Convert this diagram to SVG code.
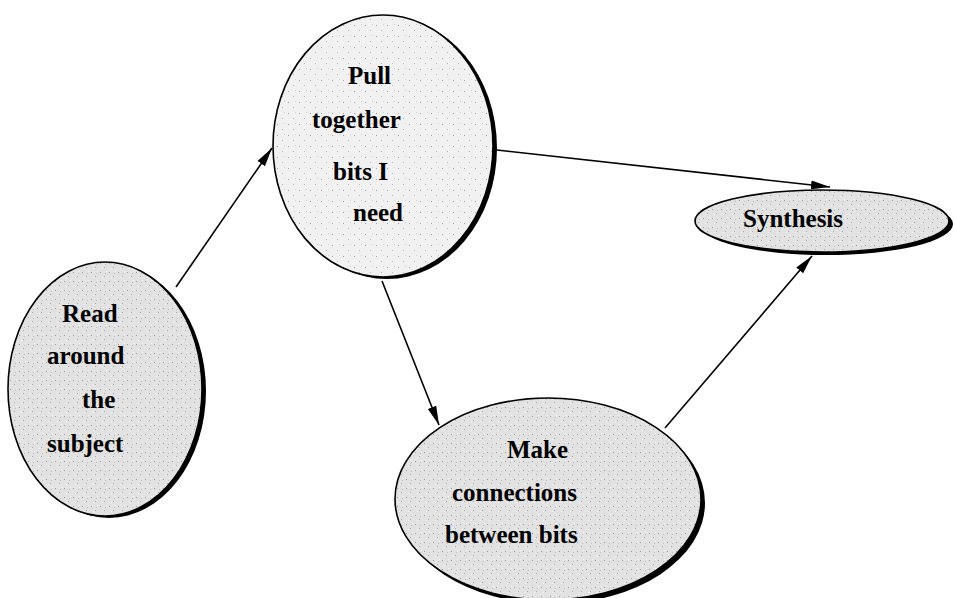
<svg xmlns="http://www.w3.org/2000/svg" width="954" height="598" viewBox="0 0 954 598">
<defs>
<pattern id="stip" width="9" height="9" patternUnits="userSpaceOnUse">
<rect width="9" height="9" fill="#e2e2e2"/>
<rect x="1" y="2" width="1" height="1" fill="#9a9a9a"/>
<rect x="5" y="6" width="1" height="1" fill="#a8a8a8"/>
<rect x="7" y="1" width="1" height="1" fill="#f4f4f4"/>
<rect x="3" y="7" width="1" height="1" fill="#f6f6f6"/>
<rect x="6" y="3" width="1" height="1" fill="#bbbbbb"/>
</pattern>
<pattern id="stipl" width="11" height="11" patternUnits="userSpaceOnUse">
<rect width="11" height="11" fill="#f1f1f1"/>
<rect x="2" y="3" width="1" height="1" fill="#a0a0a0"/>
<rect x="7" y="8" width="1" height="1" fill="#b4b4b4"/>
<rect x="9" y="2" width="1" height="1" fill="#d0d0d0"/>
</pattern>
<marker id="arr" markerWidth="20" markerHeight="10" refX="19" refY="5" orient="auto" markerUnits="userSpaceOnUse">
<path d="M0,0.5 L19,5 L0,9.5 Z" fill="#000"/>
</marker>
<style>
.sh{fill:#000}
.el{fill:url(#stip);stroke:#000;stroke-width:1.6}
.ell{fill:url(#stipl);stroke:#000;stroke-width:1.6}
.c{stroke:#000;stroke-width:1.6;fill:none}
</style>
</defs>
<g id="connectors">
<line class="c" x1="176" y1="287" x2="272" y2="148" marker-end="url(#arr)"/>
<line class="c" x1="382" y1="281" x2="439" y2="425" marker-end="url(#arr)"/>
<line class="c" x1="497" y1="150" x2="830" y2="187" marker-end="url(#arr)"/>
<line class="c" x1="665" y1="428" x2="812" y2="256" marker-end="url(#arr)"/>
</g>
<g font-family="Liberation Serif, Times New Roman, serif" font-weight="bold" font-size="25" fill="#000">
<g id="n-read">
<ellipse class="sh" cx="109" cy="391" rx="97" ry="127"/>
<ellipse class="el" cx="105" cy="389" rx="97" ry="127"/>
<text x="62" y="322">Read</text>
<text x="47" y="364">around</text>
<text x="82" y="408">the</text>
<text x="47" y="452">subject</text>
</g>
<g id="n-pull">
<ellipse class="sh" cx="387" cy="148" rx="110" ry="131"/>
<ellipse class="ell" cx="383" cy="146" rx="110" ry="131"/>
<text x="348" y="84">Pull</text>
<text x="312" y="128">together</text>
<text x="333" y="180">bits I</text>
<text x="353" y="221">need</text>
</g>
<g id="n-synth">
<ellipse class="sh" cx="826" cy="224" rx="127" ry="31"/>
<ellipse class="el" cx="822" cy="221" rx="127" ry="31"/>
<text x="743" y="227">Synthesis</text>
</g>
<g id="n-make">
<ellipse class="sh" cx="552" cy="503" rx="153" ry="101"/>
<ellipse class="el" cx="548" cy="499" rx="153" ry="101"/>
<text x="507" y="458">Make</text>
<text x="452" y="501">connections</text>
<text x="445" y="543">between bits</text>
</g>
</g>
</svg>
